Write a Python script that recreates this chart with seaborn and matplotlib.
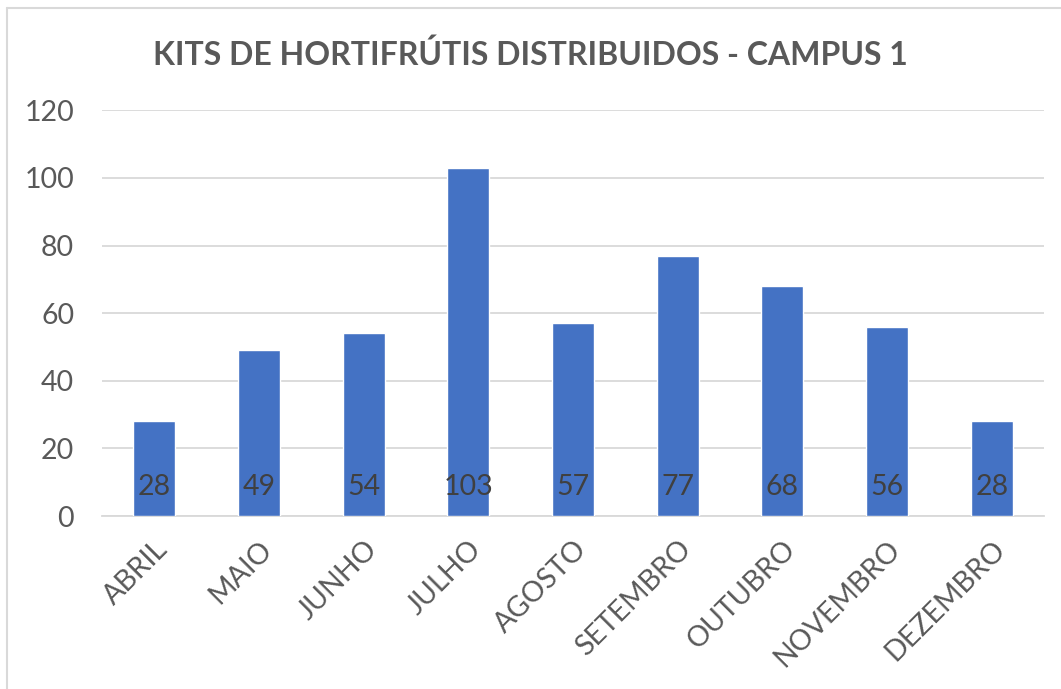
import matplotlib
matplotlib.use("Agg")
import matplotlib.pyplot as plt
import seaborn as sns
import pandas as pd
from matplotlib.lines import Line2D

meses = ["ABRIL", "MAIO", "JUNHO", "JULHO", "AGOSTO", "SETEMBRO",
         "OUTUBRO", "NOVEMBRO", "DEZEMBRO"]
kits = [28, 49, 54, 103, 57, 77, 68, 56, 28]
yticks = [0, 20, 40, 60, 80, 100, 120]

df = pd.DataFrame({"mes": meses, "kits": kits})

sns.set_theme(style="white")
plt.rcParams["font.family"] = ["Lato", "DejaVu Sans"]

fig = plt.figure(figsize=(10.61, 6.89), dpi=100)
ax = fig.add_axes([0.0961, 0.251, 0.888, 0.589])

sns.barplot(data=df, x="mes", y="kits", color="#4472C4", saturation=1,
            width=0.4, ax=ax, zorder=3)

# rotulos de dados perto da base
for i, v in enumerate(kits):
    ax.text(i, 8.6, str(v), ha="center", va="center", fontsize=20.5,
            color="#404040", zorder=4)

ax.set_ylim(0, 120)
ax.set_yticks(yticks)
ax.set_xlim(-0.5, len(meses) - 0.5)
ax.yaxis.grid(True, color="#D9D9D9", linewidth=1.3, zorder=0)
for s in ["top", "right", "left"]:
    ax.spines[s].set_visible(False)
ax.spines["bottom"].set_color("#D9D9D9")
ax.spines["bottom"].set_linewidth(1.3)
ax.tick_params(axis="both", length=0, labelsize=20.5, colors="#595959")
ax.tick_params(axis="y", pad=20)
ax.set_xlabel("")
ax.set_ylabel("")
plt.setp(ax.get_xticklabels(), rotation=45, ha="right",
         rotation_mode="anchor")
ax.tick_params(axis="x", pad=14)

fig.text(0.5, 0.92, "KITS DE HORTIFRÚTIS DISTRIBUIDOS - CAMPUS 1",
         ha="center", va="center", fontsize=23, fontweight="bold",
         color="#595959")

# borda do grafico
fig.add_artist(Line2D([7 / 1061, 7 / 1061], [0, 1 - 8 / 689],
                      transform=fig.transFigure, color="#D9D9D9", lw=1.5))
fig.add_artist(Line2D([7 / 1061, 1], [1 - 8 / 689, 1 - 8 / 689],
                      transform=fig.transFigure, color="#D9D9D9", lw=1.5))

fig.savefig("out.png", dpi=100, facecolor="white")
